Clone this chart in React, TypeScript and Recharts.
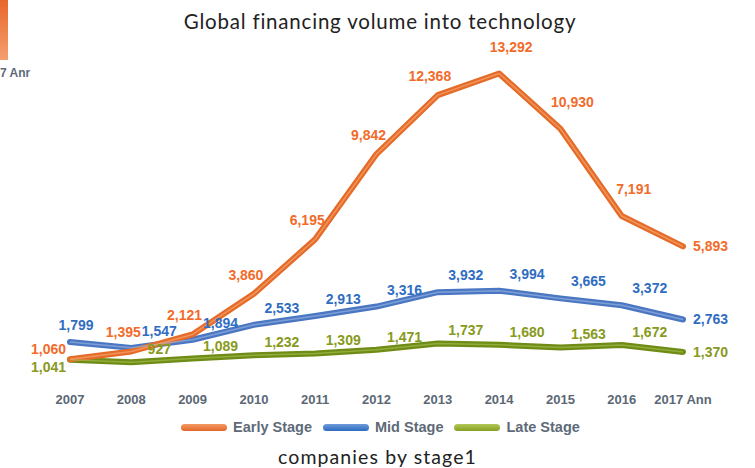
import { LineChart, Line, XAxis, YAxis, LabelList } from "recharts";

const years = ["2007", "2008", "2009", "2010", "2011", "2012", "2013", "2014", "2015", "2016", "2017 Ann"];
const earlyStage = [1060, 1395, 2121, 3860, 6195, 9842, 12368, 13292, 10930, 7191, 5893];
const midStage = [1799, 1547, 1894, 2533, 2913, 3316, 3932, 3994, 3665, 3372, 2763];
const lateStage = [1041, 927, 1089, 1232, 1309, 1471, 1737, 1680, 1563, 1672, 1370];

const chartData = years.map((year, i) => ({
  year,
  early: earlyStage[i],
  mid: midStage[i],
  late: lateStage[i],
}));

const fmt = (v: number) => v.toLocaleString("en-US");
const last = years.length - 1;

type Kind = "early" | "mid" | "late";

const labelColor: Record<Kind, string> = {
  early: "#F26B2A",
  mid: "#2F6DC1",
  late: "#879A1C",
};

function makeLabel(kind: Kind, series: number[]) {
  return (props: any) => {
    const { x, y, value, index } = props;
    let tx = x;
    let ty = y;
    let anchor: "start" | "middle" | "end" = "middle";
    if (index === last) {
      tx = x + 10;
      anchor = "start";
      ty = y + 5;
    } else if (index === 0 && kind !== "mid") {
      tx = x - 4;
      anchor = "end";
      ty = kind === "early" ? y - 5 : y + 12;
    } else if (index === 0) {
      tx = x + 6;
      ty = y - 12;
    } else if (kind === "early") {
      const rising = series[index + 1] > series[index];
      tx = x + (rising ? -8 : 12);
      ty = y - (rising ? 14 : 22);
    } else if (kind === "mid") {
      tx = x + 28;
      ty = y - 12;
    } else {
      tx = x + 28;
      ty = y - 8;
    }
    return (
      <text
        x={tx}
        y={ty}
        textAnchor={anchor}
        fill={labelColor[kind]}
        fontSize={14}
        fontWeight="bold"
        fontFamily="Liberation Sans, Arial, sans-serif"
      >
        {fmt(value)}
      </text>
    );
  };
}

const lines: { key: Kind; dark: string; light: string; series: number[] }[] = [
  { key: "late", dark: "#6F8C17", light: "#A3B94A", series: lateStage },
  { key: "mid", dark: "#4A76C2", light: "#93B0E0", series: midStage },
  { key: "early", dark: "#E56C28", light: "#F7A572", series: earlyStage },
];

const legendItems = [
  { name: "Early Stage", color: "#E2672A", light: "#F49A62" },
  { name: "Mid Stage", color: "#2B6BBE", light: "#6E9BDB" },
  { name: "Late Stage", color: "#86A11F", light: "#B2C75A" },
];

export default function App() {
  return (
    <div
      style={{
        position: "absolute",
        left: 0,
        top: 0,
        width: 755,
        height: 468,
        background: "#fff",
        overflow: "hidden",
      }}
    >
      <div
        style={{
          position: "absolute",
          left: 0,
          top: 0,
          width: 8,
          height: 60,
          background: "linear-gradient(#E8652A, #F4A070)",
        }}
      />
      <div
        style={{
          position: "absolute",
          left: 0,
          top: 66,
          fontFamily: "Liberation Sans, Arial, sans-serif",
          fontWeight: "bold",
          fontSize: 12,
          color: "#5E6A78",
        }}
      >
        7 Anr
      </div>
      <div
        style={{
          position: "absolute",
          left: 0,
          top: 9,
          width: 760,
          textAlign: "center",
          fontFamily: "Lato, sans-serif",
          fontSize: 20.5,
          letterSpacing: 0.8,
          color: "#222",
        }}
      >
        Global financing volume into technology
      </div>
      <LineChart
        width={755}
        height={468}
        data={chartData}
        margin={{ top: 57, right: 72, left: 70, bottom: 54 }}
      >
        <XAxis
          dataKey="year"
          axisLine={false}
          tickLine={false}
          height={30}
          interval={0}
          tick={{
            fill: "#5B6775",
            fontSize: 13,
            fontWeight: "bold",
            fontFamily: "Liberation Sans, Arial, sans-serif",
          }}
          tickMargin={5}
        />
        <YAxis hide domain={[0, 14000]} />
        {lines.map((l) => (
          <Line
            key={l.key + "-base"}
            dataKey={l.key}
            stroke={l.dark}
            strokeWidth={6}
            dot={false}
            activeDot={false}
            strokeLinejoin="round"
            strokeLinecap="round"
            isAnimationActive={false}
          />
        ))}
        {lines.map((l) => (
          <Line
            key={l.key + "-hi"}
            dataKey={l.key}
            stroke={l.light}
            strokeWidth={1.5}
            strokeOpacity={0.7}
            dot={false}
            activeDot={false}
            strokeLinejoin="round"
            isAnimationActive={false}
          >
            <LabelList dataKey={l.key} content={makeLabel(l.key, l.series)} />
          </Line>
        ))}
      </LineChart>
      <div
        style={{
          position: "absolute",
          left: 181,
          top: 419,
          display: "flex",
          alignItems: "center",
          fontFamily: "Liberation Sans, Arial, sans-serif",
          fontWeight: "bold",
          fontSize: 14.5,
          color: "#5E6A78",
        }}
      >
        {legendItems.map((it) => (
          <div key={it.name} style={{ display: "flex", alignItems: "center", marginRight: 11 }}>
            <div
              style={{
                width: 46,
                height: 7,
                borderRadius: 4,
                background: `linear-gradient(${it.light}, ${it.color})`,
                marginRight: 6,
              }}
            />
            <span>{it.name}</span>
          </div>
        ))}
      </div>
      <div
        style={{
          position: "absolute",
          left: 0,
          top: 445,
          width: 755,
          textAlign: "center",
          fontFamily: "Lato, sans-serif",
          fontSize: 19.5,
          letterSpacing: 1.1,
          color: "#222",
        }}
      >
        companies by stage1
      </div>
    </div>
  );
}
